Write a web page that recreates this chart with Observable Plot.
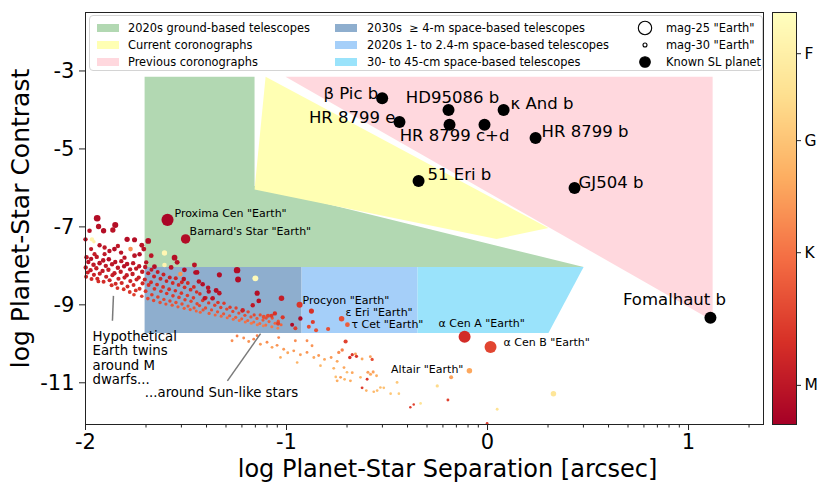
<!DOCTYPE html>
<html>
<head>
<meta charset="utf-8">
<script src="https://cdn.jsdelivr.net/npm/d3@7"></script>
<script src="https://cdn.jsdelivr.net/npm/@observablehq/plot@0.6"></script>
<style>
  html, body { margin: 0; padding: 0; background: #fff; }
  #chart { position: relative; width: 830px; height: 493px; font-family: "DejaVu Sans", sans-serif; overflow: hidden; }
  #chart svg { position: absolute; top: 0; }
  .legend { position: absolute; left: 89px; top: 15px; width: 674px; height: 56px; box-sizing: border-box;
            border: 1px solid #d4d4d4; border-radius: 4px; background: rgba(255,255,255,0.85); }
  .legend .item { position: absolute; height: 16px; line-height: 16px; font-size: 11.4px; color: #000; white-space: pre; }
  .legend .patch { position: absolute; width: 22px; height: 8px; }
  .legend svg.mk { position: absolute; }
</style>
</head>
<body>
<div id="chart"></div>
<script>
// ---------------- DATA (log units: separation [arcsec], contrast) ----------------
const xTicks = [-2, -1, 0, 1];
const yTicks = [-3, -5, -7, -9, -11];
const minorMultipliers = [2, 3, 4, 5, 6, 7, 8, 9];
const minorDecades = [-2, -1, 0, 1];

// telescope regions (polygon vertices: [log sep, log contrast])
const ground2020s = [[-1.706, -3.15], [-1.159, -3.15], [-1.159, -5.95], [0.478, -8.03], [-1.706, -8.03]];
const currentCoronographs = [[-1.104, -3.15], [0.303, -7.03], [0.045, -7.31], [-1.159, -6.04]];
const previousCoronographs = [[-1.005, -3.15], [1.12, -3.15], [1.12, -9.41]];
const space2030s = [[-1.706, -8.03], [-0.925, -8.03], [-0.925, -9.72], [-1.706, -9.72]];
const space2020s = [[-0.925, -8.03], [-0.348, -8.03], [-0.348, -9.72], [-0.925, -9.72]];
const space30to45cm = [[-0.348, -8.03], [0.478, -8.03], [0.303, -9.72], [-0.348, -9.72]];

// known self-luminous planets
const knownPlanets = [
  {name: "β Pic b", label: "β Pic b", sep: -0.524, contrast: -3.70},
  {name: "HR 8799 e", label: "HR 8799 e", sep: -0.438, contrast: -4.31},
  {name: "HD95086 b", label: "HD95086 b", sep: -0.194, contrast: -4.00},
  {name: "κ And b", label: "κ And b", sep: 0.080, contrast: -4.00},
  {name: "HR 8799 c", label: "HR 8799 c+d", sep: -0.189, contrast: -4.38},
  {name: "HR 8799 d", label: null, sep: -0.015, contrast: -4.38},
  {name: "HR 8799 b", label: "HR 8799 b", sep: 0.239, contrast: -4.72},
  {name: "51 Eri b", label: "51 Eri b", sep: -0.343, contrast: -5.82},
  {name: "GJ504 b", label: "GJ504 b", sep: 0.433, contrast: -6.00},
  {name: "Fomalhaut b", label: "Fomalhaut b", sep: 1.109, contrast: -9.33}
];

// named hypothetical Earth twins: sep, contrast, magnitude, spectral index (0 = late M ... 1 = early F)
const namedEarths = [
  {name: 'Proxima Cen "Earth"', sep: -1.592, contrast: -6.82, mag: 25.7, spec: 0.02},
  {name: "Barnard's Star \"Earth\"", sep: -1.502, contrast: -7.31, mag: 27.1, spec: 0.05},
  {name: 'Procyon "Earth"', sep: -0.935, contrast: -9.00, mag: 28.9, spec: 0.22},
  {name: 'ε Eri "Earth"', sep: -0.726, contrast: -9.36, mag: 29.2, spec: 0.30},
  {name: 'τ Cet "Earth"', sep: -0.697, contrast: -9.51, mag: 29.6, spec: 0.35},
  {name: 'α Cen A "Earth"', sep: -0.114, contrast: -9.82, mag: 25.75, spec: 0.18},
  {name: 'α Cen B "Earth"', sep: 0.015, contrast: -10.08, mag: 25.75, spec: 0.27},
  {name: 'Altair "Earth"', sep: -0.090, contrast: -10.69, mag: 29.2, spec: 0.58}
];

// hypothetical Earth twins around M dwarfs (dense band): [sep, contrast, mag, spec]
const mDwarfTwins = [
  [-1.995,-7.78,29.7,.09],[-1.986,-7.90,29.8,.07],[-1.999,-8.04,29.8,.11],[-1.989,-8.17,29.9,.13],[-1.997,-8.28,30.0,.16],
  [-1.972,-7.82,29.8,.07],[-1.960,-7.97,29.7,.10],[-1.975,-8.11,29.8,.11],[-1.958,-8.23,29.9,.14],[-1.970,-8.34,30.0,.17],
  [-1.944,-7.77,29.8,.10],[-1.930,-7.93,29.7,.07],[-1.946,-8.06,29.8,.12],[-1.929,-8.20,29.9,.13],[-1.941,-8.33,29.9,.16],[-1.936,-8.40,30.1,.19],
  [-1.912,-7.86,29.7,.08],[-1.899,-8.00,29.8,.10],[-1.915,-8.13,29.8,.11],[-1.897,-8.28,29.9,.14],[-1.910,-8.41,30.0,.18],
  [-1.884,-7.83,29.7,.06],[-1.868,-7.96,29.8,.09],[-1.886,-8.10,29.8,.12],[-1.866,-8.24,29.9,.13],[-1.880,-8.37,29.9,.15],[-1.870,-8.50,30.0,.19],
  [-1.852,-7.90,29.8,.08],[-1.839,-8.05,29.7,.10],[-1.856,-8.19,29.8,.11],[-1.836,-8.33,29.9,.14],[-1.850,-8.46,30.0,.17],[-1.841,-8.57,30.1,.21],
  [-1.822,-7.88,29.8,.10],[-1.808,-8.01,29.8,.07],[-1.825,-8.15,29.8,.12],[-1.806,-8.30,29.9,.13],[-1.820,-8.44,29.9,.17],[-1.810,-8.60,30.1,.21],
  [-1.793,-7.95,29.7,.08],[-1.778,-8.09,29.8,.10],[-1.795,-8.24,29.8,.12],[-1.777,-8.39,29.9,.15],[-1.791,-8.53,30.0,.17],[-1.780,-8.67,30.1,.22],
  [-1.763,-7.93,29.8,.10],[-1.748,-8.07,29.8,.11],[-1.766,-8.21,29.8,.12],[-1.746,-8.35,29.9,.15],[-1.761,-8.49,30.0,.17],[-1.750,-8.63,30.1,.21],[-1.759,-8.74,30.2,.25],
  [-1.733,-8.01,29.8,.10],[-1.718,-8.15,29.8,.12],[-1.735,-8.30,29.9,.13],[-1.716,-8.45,29.9,.17],[-1.731,-8.59,30.0,.21],[-1.720,-8.78,30.2,.25],
  [-1.703,-8.03,29.8,.10],[-1.688,-8.19,29.9,.12],[-1.705,-8.35,29.9,.15],[-1.686,-8.49,30.0,.19],[-1.701,-8.65,30.1,.23],[-1.690,-8.84,30.2,.27],
  [-1.672,-8.10,30.0,.12],[-1.659,-8.27,30.0,.14],[-1.674,-8.42,30.1,.18],[-1.657,-8.59,30.1,.22],[-1.670,-8.74,30.2,.24],[-1.661,-8.89,30.3,.28],
  [-1.641,-8.16,30.0,.12],[-1.627,-8.33,30.0,.16],[-1.644,-8.48,30.1,.20],[-1.625,-8.65,30.2,.22],[-1.640,-8.80,30.2,.26],[-1.629,-8.94,30.3,.30],
  [-1.612,-8.22,30.0,.14],[-1.597,-8.39,30.1,.16],[-1.614,-8.54,30.1,.20],[-1.596,-8.71,30.2,.22],[-1.610,-8.86,30.3,.28],[-1.600,-8.98,30.4,.32],
  [-1.581,-8.30,30.0,.14],[-1.566,-8.44,30.1,.18],[-1.584,-8.60,30.1,.20],[-1.565,-8.77,30.2,.24],[-1.580,-8.90,30.3,.28],[-1.569,-9.01,30.4,.33],
  [-1.551,-8.32,30.0,.16],[-1.537,-8.49,30.1,.18],[-1.553,-8.64,30.2,.20],[-1.535,-8.81,30.2,.26],[-1.550,-8.94,30.3,.30],[-1.540,-9.05,30.4,.34],
  [-1.521,-8.42,30.1,.16],[-1.507,-8.55,30.1,.20],[-1.523,-8.70,30.2,.22],[-1.505,-8.87,30.3,.26],[-1.520,-8.98,30.3,.30],[-1.509,-9.09,30.4,.35],
  [-1.491,-8.44,30.1,.18],[-1.477,-8.61,30.1,.20],[-1.493,-8.76,30.2,.24],[-1.475,-8.91,30.3,.28],[-1.490,-9.03,30.4,.32],[-1.479,-9.12,30.4,.35],
  [-1.461,-8.54,30.1,.18],[-1.447,-8.67,30.2,.20],[-1.463,-8.82,30.2,.24],[-1.445,-8.97,30.3,.28],[-1.460,-9.08,30.4,.33],[-1.449,-9.16,30.5,.37],
  [-1.431,-8.72,30.2,.20],[-1.417,-8.89,30.2,.24],[-1.433,-9.02,30.3,.28],[-1.415,-9.13,30.4,.32],[-1.429,-9.19,30.5,.37],
  [-1.401,-8.82,30.2,.20],[-1.387,-8.95,30.3,.24],[-1.403,-9.08,30.3,.30],[-1.385,-9.22,30.4,.35],
  [-1.371,-8.84,30.2,.22],[-1.357,-9.01,30.3,.26],[-1.373,-9.13,30.4,.30],[-1.355,-9.26,30.5,.37],
  [-1.341,-8.94,30.2,.22],[-1.327,-9.07,30.3,.26],[-1.343,-9.18,30.4,.32],[-1.325,-9.29,30.5,.37],
  [-1.311,-8.96,30.3,.24],[-1.297,-9.11,30.3,.28],[-1.313,-9.23,30.4,.32],[-1.295,-9.33,30.5,.39],
  [-1.281,-9.06,30.3,.24],[-1.267,-9.17,30.4,.28],[-1.283,-9.28,30.4,.34],[-1.265,-9.37,30.5,.39],
  [-1.251,-9.08,30.3,.26],[-1.237,-9.21,30.4,.30],[-1.253,-9.32,30.4,.35],[-1.235,-9.40,30.5,.41],
  [-1.221,-9.16,30.3,.26],[-1.207,-9.27,30.4,.30],[-1.223,-9.36,30.5,.35],[-1.205,-9.44,30.5,.41],
  [-1.191,-9.18,30.3,.28],[-1.177,-9.31,30.4,.32],[-1.193,-9.40,30.5,.37],[-1.175,-9.47,30.5,.43],
  [-1.161,-9.26,30.4,.28],[-1.147,-9.35,30.4,.34],[-1.163,-9.44,30.5,.39],[-1.145,-9.51,30.5,.43],
  [-1.131,-9.26,30.4,.30],[-1.117,-9.39,30.4,.34],[-1.133,-9.48,30.5,.39],[-1.115,-9.54,30.6,.45],
  [-1.101,-9.34,30.4,.30],[-1.087,-9.43,30.5,.36],[-1.103,-9.52,30.5,.41],
  [-1.071,-9.34,30.4,.32],[-1.057,-9.47,30.5,.37],[-1.073,-9.56,30.5,.43],
  [-1.041,-9.42,30.4,.32],[-1.027,-9.51,30.5,.37],[-1.043,-9.60,30.6,.45]
];

// brighter (nearer) scattered Earth twins above the band: [sep, contrast, mag, spec]
const nearbyTwins = [
  [-1.942,-6.78,28.6,.05],[-1.852,-6.95,28.9,.06],[-1.935,-6.99,29.3,.07],[-1.980,-7.10,29.7,.08],
  [-1.910,-7.10,29.3,.06],[-1.864,-7.08,29.3,.08],[-1.793,-7.32,29.3,.06],[-1.756,-7.33,29.4,.06],
  [-1.688,-7.36,29.1,.06],[-2.000,-7.32,29.8,.08],[-1.968,-7.32,29.8,.92],[-1.958,-7.38,30.3,.90],
  [-1.776,-7.57,29.7,.50],[-1.720,-7.47,29.5,.08],[-1.710,-7.57,29.5,.08],[-1.607,-7.67,29.3,.95],
  [-1.557,-7.79,29.1,.06],[-1.607,-7.98,29.7,.93],[-1.544,-7.91,29.5,.07],[-1.458,-7.98,29.5,.08],
  [-1.972,-7.57,29.9,.10],[-1.930,-7.47,29.8,.08],[-1.905,-7.53,29.8,.10],[-1.881,-7.62,29.8,.08],
  [-1.856,-7.57,29.6,.06],[-1.839,-7.49,29.8,.10],[-1.823,-7.66,29.8,.08],[-1.905,-7.70,29.9,.10],
  [-1.955,-7.70,29.9,.12],[-1.806,-7.79,29.8,.08],[-1.756,-7.74,29.6,.08],[-1.731,-7.70,29.7,.06],
  [-1.673,-7.74,29.6,.08],[-1.698,-7.91,29.8,.08],[-1.657,-8.02,29.6,.06],[-1.574,-8.04,29.6,.08],
  [-1.508,-8.10,29.6,.06],[-1.528,-8.21,29.7,.52],[-1.511,-8.34,29.7,.08],[-1.445,-8.17,29.6,.06],
  [-1.436,-8.40,29.7,.08],[-1.417,-8.47,29.7,.06],[-1.390,-8.56,29.7,.08],[-1.387,-8.66,29.8,.06],
  [-1.350,-8.63,29.5,.06],[-1.334,-8.70,29.7,.08],[-1.334,-8.23,29.4,.05],[-1.453,-8.17,29.7,.06],
  [-1.407,-8.83,29.8,.08],[-1.367,-8.83,29.8,.08],[-1.246,-8.11,28.7,.05],[-1.241,-8.35,29.0,.05],
  [-1.155,-8.32,29.0,.97],[-1.146,-8.70,29.4,.06],[-1.138,-8.90,29.6,.07],[-1.168,-9.01,29.8,.10],
  [-1.025,-8.83,29.2,.12],[-1.218,-9.14,29.8,.14],[-1.058,-9.22,29.8,.20],[-1.075,-9.28,29.9,.24],
  [-1.092,-9.28,29.9,.28],[-1.113,-9.31,29.9,.30],[-1.019,-9.32,29.9,.22],[-1.042,-9.48,29.9,.26],
  [-0.972,-9.51,30.0,.04],[-0.956,-9.60,30.0,.24],[-0.931,-9.35,29.8,.04],[-0.876,-9.16,29.4,.20],
  [-0.869,-9.44,29.9,.24],[-0.889,-9.56,30.0,.28],[-0.853,-9.65,30.0,.30],[-0.793,-9.62,29.9,.30]
];

// Earth twins around Sun-like stars (fainter branch): [sep, contrast, mag, spec]
const sunlikeTwins = [
  [-1.271,-9.92,30.6,.50],[-1.246,-9.80,30.6,.46],[-1.213,-9.85,30.6,.50],[-1.188,-9.94,30.6,.52],
  [-1.163,-9.88,30.6,.48],[-1.130,-10.01,30.6,.54],[-1.097,-9.96,30.6,.50],[-1.072,-10.09,30.6,.56],
  [-1.047,-10.04,30.6,.52],[-1.030,-10.35,30.7,.60],[-1.014,-10.14,30.6,.54],[-0.994,-10.23,30.6,.58],
  [-0.964,-10.18,30.6,.54],[-0.947,-10.48,30.7,.62],[-0.931,-10.28,30.6,.56],[-0.898,-10.22,30.6,.52],
  [-0.864,-10.35,30.6,.58],[-0.840,-10.30,30.6,.54],[-0.831,-10.56,30.7,.64],[-0.811,-10.40,30.6,.58],
  [-0.778,-10.35,30.6,.54],[-0.765,-10.63,30.6,.62],[-0.748,-10.45,30.6,.58],[-0.755,-10.85,30.7,.66],
  [-0.748,-10.95,30.6,.60],[-0.731,-10.86,30.6,.56],[-0.723,-10.16,30.3,.46],[-0.740,-10.22,30.4,.50],
  [-0.714,-10.61,30.6,.58],[-0.711,-10.91,30.7,.64],[-0.706,-9.94,29.9,.26],[-0.699,-10.73,30.7,.66],
  [-0.685,-10.35,30.3,.20],[-0.673,-10.28,30.4,.22],[-0.682,-10.95,30.6,.60],[-0.673,-10.74,30.6,.58],
  [-0.657,-10.26,30.6,.56],[-0.652,-10.32,30.4,.22],[-0.632,-10.86,30.7,.64],[-0.624,-10.39,30.6,.58],
  [-0.624,-11.13,30.6,.24],[-0.603,-11.20,30.7,.62],[-0.599,-10.91,30.6,.22],[-0.595,-10.73,30.5,.56],
  [-0.583,-10.33,30.6,.56],[-0.582,-10.78,30.5,.58],[-0.574,-10.40,30.4,.30],[-0.569,-10.72,30.5,.56],
  [-0.566,-11.23,30.7,.64],[-0.552,-10.82,30.6,.60],[-0.549,-11.20,30.7,.66],[-0.533,-11.12,30.7,.66],
  [-0.516,-11.13,30.7,.68],[-0.482,-11.28,30.7,.70],[-0.450,-10.99,30.6,.70],[-0.441,-11.28,30.7,.72],
  [-0.384,-11.63,30.8,.24],[-0.367,-11.56,30.8,.26],[-0.333,-11.53,30.7,.82],[-0.250,-11.08,30.4,.78],
  [-0.197,-11.44,30.6,.26],[-0.181,-10.86,30.0,.56],[0.048,-11.68,30.6,.82],[-0.002,-12.04,30.7,.24],
  [0.328,-11.28,29.2,.84],[-0.898,-9.92,30.6,.50],[-0.873,-10.05,30.6,.52],[-0.956,-9.92,30.6,.50],
  [-1.039,-9.84,30.6,.48],[-1.146,-9.79,30.6,.46]
];

// annotations
const annotations = [
  {text: "Hypothetical\nEarth twins\naround M\ndwarfs...", sep: -1.965, contrast: -9.65},
  {text: "...around Sun-like stars", sep: -1.705, contrast: -11.25}
];
const pointers = [
  {x1: -1.861, y1: -8.77, x2: -1.866, y2: -9.41},
  {x1: -1.129, y1: -9.74, x2: -1.294, y2: -10.95}
];

// spectral type colour bar
const specTickValues = [0.095, 0.417, 0.689, 0.90];
const specTickLabels = ["M", "K", "G", "F"];

// ---------------- STYLE ----------------
const COL = {
  ground: "#b2d8b2", current: "#ffffb3", previous: "#ffd8de",
  s2030: "#8eaece", s2020: "#a5cff9", s30cm: "#9ae3fb"
};
const colorScale = {
  type: "linear",
  domain: [0, 0.2, 0.4, 0.6, 0.8, 1],
  range: ["#a50026", "#d73027", "#f46d43", "#fdae61", "#fee090", "#ffffbf"]
};
const rScale = {type: "linear", domain: [25, 30], range: [6.7, 2]};

const toObj = ([sep, contrast, mag, spec]) => ({sep, contrast, mag, spec});
const twins = [...mDwarfTwins, ...sunlikeTwins, ...nearbyTwins].map(toObj);

const minorTicks = [];
for (const d of minorDecades) for (const m of minorMultipliers) {
  const v = d + Math.log10(m);
  if (v < 1.373) minorTicks.push(v);
}

const poly = (pts, fill) => Plot.line(pts, {x: d => d[0], y: d => d[1], fill, stroke: "none", curve: "linear"});

const planetLabelStyle = {
  "β Pic b": ["end", -4, -5],
  "HR 8799 e": ["end", -4, -4],
  "HD95086 b": ["middle", 4, -12],
  "κ And b": ["start", 7, -6],
  "HR 8799 c+d": ["middle", 5, 11],
  "HR 8799 b": ["start", 6, -6],
  "51 Eri b": ["start", 9, -6],
  "GJ504 b": ["start", 4, -5],
  "Fomalhaut b": ["middle", -36, -18]
};
const earthLabelStyle = {
  'Proxima Cen "Earth"': ["start", 7, -6],
  "Barnard's Star \"Earth\"": ["start", 4, -7],
  'Procyon "Earth"': ["start", 3, -4],
  'ε Eri "Earth"': ["start", 4, -6],
  'τ Cet "Earth"': ["start", 4, 0],
  'α Cen A "Earth"': ["start", -26, -13],
  'α Cen B "Earth"': ["start", 13, -4],
  'Altair "Earth"': ["end", -6, -1]
};

const planetLabelMarks = knownPlanets.filter(d => d.label).map(d => {
  const [a, dx, dy] = planetLabelStyle[d.label];
  return Plot.text([d], {x: "sep", y: "contrast", text: "label", textAnchor: a, dx, dy, fontSize: 16.5, fill: "#000"});
});
const earthLabelMarks = namedEarths.map(d => {
  const [a, dx, dy] = earthLabelStyle[d.name];
  return Plot.text([d], {x: "sep", y: "contrast", text: "name", textAnchor: a, dx, dy, fontSize: 11, fill: "#000"});
});

const chart = Plot.plot({
  width: 830, height: 493,
  marginLeft: 85, marginRight: 67, marginTop: 12, marginBottom: 69,
  style: {fontFamily: "DejaVu Sans, sans-serif", background: "#fff", display: "block"},
  x: {domain: [-2, 1.373]},
  y: {domain: [-12.07, -1.5]},
  color: colorScale,
  r: rScale,
  marks: [
    poly(ground2020s, COL.ground),
    poly(currentCoronographs, COL.current),
    poly(previousCoronographs, COL.previous),
    poly(space2030s, COL.s2030),
    poly(space2020s, COL.s2020),
    poly(space30to45cm, COL.s30cm),
    Plot.dot(twins, {x: "sep", y: "contrast", r: "mag", fill: "spec", stroke: "none"}),
    Plot.dot(namedEarths, {x: "sep", y: "contrast", r: "mag", fill: "spec", stroke: "none"}),
    Plot.dot(knownPlanets, {x: "sep", y: "contrast", r: 6, fill: "#000", stroke: "none"}),
    ...earthLabelMarks,
    ...planetLabelMarks,
    Plot.link(pointers, {x1: "x1", y1: "y1", x2: "x2", y2: "y2", stroke: "#7a7a7a", strokeWidth: 1.5}),
    Plot.text([annotations[0]], {x: "sep", y: "contrast", text: "text", textAnchor: "start", lineAnchor: "top", lineHeight: 1.1, fontSize: 13.3, fill: "#000"}),
    Plot.text([annotations[1]], {x: "sep", y: "contrast", text: "text", textAnchor: "start", fontSize: 13.3, fill: "#000"}),
    Plot.frame({stroke: "#222", strokeWidth: 1}),
    Plot.axisX({ticks: minorTicks, tickSize: 3.5, tickFormat: () => "", label: null, stroke: "#222"}),
    Plot.axisX({ticks: xTicks, tickSize: 6, tickPadding: 4, fontSize: 21, tickFormat: d => `${d}`, label: null, stroke: "#222", fill: "#000"}),
    Plot.axisY({ticks: yTicks, tickSize: 6, tickPadding: 5, fontSize: 21, tickFormat: d => `${d}`, label: null, stroke: "#222", fill: "#000"}),
    Plot.text(["log Planet-Star Separation [arcsec]"], {frameAnchor: "bottom", text: d => d, textAnchor: "middle", lineAnchor: "middle", dy: 45, dx: 23, fontSize: 24, fill: "#000"}),
    Plot.text(["log Planet-Star Contrast"], {frameAnchor: "left", text: d => d, textAnchor: "middle", lineAnchor: "middle", rotate: -90, dx: -65, fontSize: 25, fill: "#000"})
  ]
});

// colour bar (spectral type)
const colorbar = Plot.plot({
  width: 58, height: 493,
  marginLeft: 0, marginRight: 34, marginTop: 12, marginBottom: 69,
  style: {fontFamily: "DejaVu Sans, sans-serif", background: "transparent", display: "block"},
  x: {domain: [0, 1], axis: null},
  y: {domain: [0, 1]},
  color: colorScale,
  marks: [
    Plot.raster({x1: 0, x2: 1, y1: 0, y2: 1, fill: (x, y) => y}),
    Plot.frame({stroke: "#222", strokeWidth: 1}),
    Plot.axisY({anchor: "right", ticks: specTickValues, tickFormat: (d, i) => specTickLabels[i], tickSize: 4, tickPadding: 4, fontSize: 15.5, label: null, stroke: "#222", fill: "#000"})
  ]
});

const root = document.getElementById("chart");
chart.style.left = "0px";
root.appendChild(chart);
colorbar.style.left = "772px";
root.appendChild(colorbar);

// legend (HTML, drawn over the top of the plot area as in the original)
const rFn = chart.scale("r").apply;
const legend = document.createElement("div");
legend.className = "legend";
const rowsY = [12, 29, 45.5];
const patchItems = [
  {label: "2020s ground-based telescopes", color: COL.ground, col: 0, row: 0},
  {label: "Current coronographs", color: COL.current, col: 0, row: 1},
  {label: "Previous coronographs", color: COL.previous, col: 0, row: 2},
  {label: "2030s  ≥ 4-m space-based telescopes", color: COL.s2030, col: 1, row: 0},
  {label: "2020s 1- to 2.4-m space-based telescopes", color: COL.s2020, col: 1, row: 1},
  {label: "30- to 45-cm space-based telescopes", color: COL.s30cm, col: 1, row: 2}
];
const patchX = [7, 245], textX = [38, 277];
for (const it of patchItems) {
  const p = document.createElement("div");
  p.className = "patch";
  p.style.left = patchX[it.col] + "px";
  p.style.top = (rowsY[it.row] - 4) + "px";
  p.style.background = it.color;
  legend.appendChild(p);
  const t = document.createElement("div");
  t.className = "item";
  t.style.left = textX[it.col] + "px";
  t.style.top = (rowsY[it.row] - 8) + "px";
  t.textContent = it.label;
  legend.appendChild(t);
}
const markerItems = [
  {label: 'mag-25 "Earth"', r: rFn(25), filled: false, row: 0},
  {label: 'mag-30 "Earth"', r: rFn(30), filled: false, row: 1},
  {label: "Known SL planet", r: 5.3, filled: true, row: 2}
];
const ns = "http://www.w3.org/2000/svg";
for (const it of markerItems) {
  const s = document.createElementNS(ns, "svg");
  s.setAttribute("class", "mk");
  s.setAttribute("width", 18); s.setAttribute("height", 18);
  s.style.left = (555 - 9) + "px";
  s.style.top = (rowsY[it.row] - 9) + "px";
  const c = document.createElementNS(ns, "circle");
  c.setAttribute("cx", 9); c.setAttribute("cy", 9); c.setAttribute("r", it.r);
  c.setAttribute("fill", it.filled ? "#000" : "#fff");
  c.setAttribute("stroke", "#000"); c.setAttribute("stroke-width", 1.1);
  s.appendChild(c);
  legend.appendChild(s);
  const t = document.createElement("div");
  t.className = "item";
  t.style.left = "576px";
  t.style.top = (rowsY[it.row] - 8) + "px";
  t.textContent = it.label;
  legend.appendChild(t);
}
root.appendChild(legend);
</script>
</body>
</html>
